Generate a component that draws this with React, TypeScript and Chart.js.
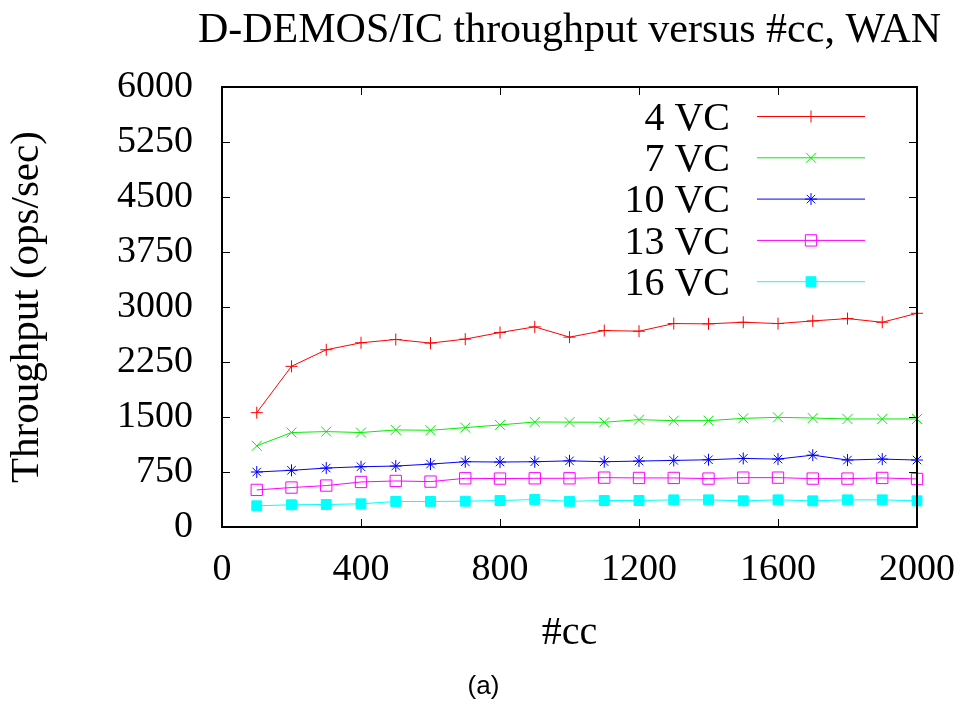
import React, { useEffect, useRef } from 'react';
import { Chart, registerables } from 'chart.js';
import { drawPoint } from 'chart.js/helpers';

Chart.register(...registerables);

const ccValues = [100, 200, 300, 400, 500, 600, 700, 800, 900, 1000, 1100, 1200, 1300, 1400, 1500, 1600, 1700, 1800, 1900, 2000];
const vc4 = [1559, 2191, 2417, 2512, 2557, 2508, 2562, 2652, 2729, 2589, 2679, 2670, 2774, 2770, 2792, 2774, 2810, 2842, 2792, 2914];
const vc7 = [1107, 1288, 1301, 1288, 1324, 1319, 1355, 1392, 1432, 1430, 1428, 1464, 1450, 1450, 1482, 1495, 1486, 1473, 1473, 1473];
const vc10 = [750, 773, 804, 822, 831, 858, 890, 886, 890, 902, 890, 899, 908, 917, 935, 926, 980, 913, 926, 913];
const vc13 = [506, 538, 565, 614, 628, 619, 664, 660, 664, 664, 673, 669, 669, 660, 673, 673, 660, 660, 669, 655];
const vc16 = [289, 303, 307, 316, 348, 348, 352, 361, 375, 350, 361, 361, 370, 370, 357, 370, 357, 370, 370, 357];

const seriesLabels = ['4 VC', '7 VC', '10 VC', '13 VC', '16 VC'];
const seriesValues = [vc4, vc7, vc10, vc13, vc16];
const seriesColors = ['#ff0000', '#00ee00', '#0000ff', '#ff00ff', '#00ffff'];
const seriesPointStyles = ['cross', 'crossRot', 'star', 'rect', 'rect'];
const seriesPointRadius = [6, 7, 6, 8, 7];
const seriesPointFill = ['#ff0000', '#00ee00', '#0000ff', 'rgba(0,0,0,0)', '#00ffff'];

const titleText = 'D-DEMOS/IC throughput versus #cc, WAN';
const xTitle = '#cc';
const yTitle = 'Throughput (ops/sec)';
const captionText = '(a)';
const xMin = 0, xMax = 2000, xStep = 400;
const yMin = 0, yMax = 6000, yStep = 750;

const SERIF = '"Liberation Serif", "Times New Roman", serif';
const SANS = '"Liberation Sans", Arial, sans-serif';

const frameTicks = {
  id: 'frameTicks',
  afterDatasetsDraw(chart: any) {
    const { ctx, chartArea: a, scales } = chart;
    const x = scales.x, y = scales.y;
    const L = 8;
    ctx.save();
    ctx.strokeStyle = '#000';
    ctx.lineWidth = 1;
    ctx.beginPath();
    x.ticks.forEach((t: any) => {
      const px = Math.round(x.getPixelForValue(t.value)) + 0.5;
      ctx.moveTo(px, a.bottom); ctx.lineTo(px, a.bottom - L);
      ctx.moveTo(px, a.top); ctx.lineTo(px, a.top + L);
    });
    y.ticks.forEach((t: any) => {
      const py = Math.round(y.getPixelForValue(t.value)) + 0.5;
      ctx.moveTo(a.left, py); ctx.lineTo(a.left + L, py);
      ctx.moveTo(a.right, py); ctx.lineTo(a.right - L, py);
    });
    ctx.stroke();
    ctx.lineWidth = 2;
    ctx.strokeRect(a.left, a.top, a.right - a.left, a.bottom - a.top);

    // legend inside the plot, gnuplot style
    ctx.font = `40px ${SERIF}`;
    ctx.textAlign = 'right';
    ctx.textBaseline = 'alphabetic';
    ctx.fillStyle = '#000';
    chart.data.datasets.forEach((ds: any, i: number) => {
      const ly = a.top + 29.5 + i * 41.3;
      ctx.fillText(ds.label, a.right - 187, ly + 0.331 * 40);
      ctx.strokeStyle = ds.borderColor;
      ctx.lineWidth = 1;
      ctx.beginPath();
      ctx.moveTo(a.right - 160, ly);
      ctx.lineTo(a.right - 52, ly);
      ctx.stroke();
      ctx.fillStyle = ds.pointBackgroundColor;
      ctx.strokeStyle = ds.borderColor;
      drawPoint(ctx, { pointStyle: ds.pointStyle, radius: ds.pointRadius, rotation: 0, borderWidth: 1 }, a.right - 106, ly);
      ctx.fillStyle = '#000';
    });

    // title centred over the plot area
    ctx.font = `42px ${SERIF}`;
    ctx.textAlign = 'center';
    ctx.textBaseline = 'alphabetic';
    ctx.fillStyle = '#000';
    ctx.fillText(titleText, (a.left + a.right) / 2, 41.5);

    // caption below the chart, centred on the page
    ctx.font = `26px ${SANS}`;
    ctx.textAlign = 'center';
    ctx.textBaseline = 'middle';
    ctx.fillText(captionText, chart.width / 2, 687);
    ctx.restore();
  },
};

export default function App() {
  const ref = useRef<HTMLCanvasElement | null>(null);
  useEffect(() => {
    if (!ref.current) return;
    const datasets = seriesLabels.map((label, i) => ({
      label,
      data: ccValues.map((c, j) => ({ x: c, y: seriesValues[i][j] })),
      borderColor: seriesColors[i],
      backgroundColor: seriesPointFill[i],
      pointBackgroundColor: seriesPointFill[i],
      pointBorderColor: seriesColors[i],
      pointStyle: seriesPointStyles[i],
      pointRadius: seriesPointRadius[i],
      pointBorderWidth: 1,
      borderWidth: 1,
      tension: 0,
      fill: false,
      clip: 12,
    }));
    const chart = new Chart(ref.current, {
      type: 'line',
      data: { datasets },
      plugins: [frameTicks],
      options: {
        animation: false,
        responsive: false,
        devicePixelRatio: 1,
        layout: { padding: { left: 0, right: 50, top: 87, bottom: 47 } },
        plugins: {
          legend: { display: false },
          tooltip: { enabled: false },
          title: { display: false },
        },
        scales: {
          x: {
            type: 'linear',
            min: xMin,
            max: xMax,
            grid: { display: false, drawTicks: false },
            border: { display: false },
            ticks: {
              stepSize: xStep, color: '#000', padding: 20, maxRotation: 0,
              font: { family: SERIF, size: 38 },
              callback: (v: any) => String(v),
            },
            title: { display: true, text: xTitle, color: '#000', font: { family: SERIF, size: 40 }, padding: { top: 0, bottom: 0 } },
            afterFit(scale: any) { scale.height = 130; scale.paddingLeft = 0; scale.paddingRight = 0; },
          },
          y: {
            type: 'linear',
            min: yMin,
            max: yMax,
            grid: { display: false, drawTicks: false },
            border: { display: false },
            ticks: {
              stepSize: yStep, color: '#000', padding: 29,
              font: { family: SERIF, size: 38 },
              callback: (v: any) => String(v),
            },
            title: { display: true, text: yTitle, color: '#000', font: { family: SERIF, size: 41 }, padding: { top: 3, bottom: 0 } },
            afterFit(scale: any) { scale.width = 222; scale.paddingTop = 0; scale.paddingBottom = 0; },
          },
        },
      },
    } as any);
    return () => chart.destroy();
  }, []);
  return (
    <canvas
      ref={ref}
      width={967}
      height={704}
      style={{ position: 'absolute', left: 0, top: 0, width: 967, height: 704 }}
    />
  );
}
